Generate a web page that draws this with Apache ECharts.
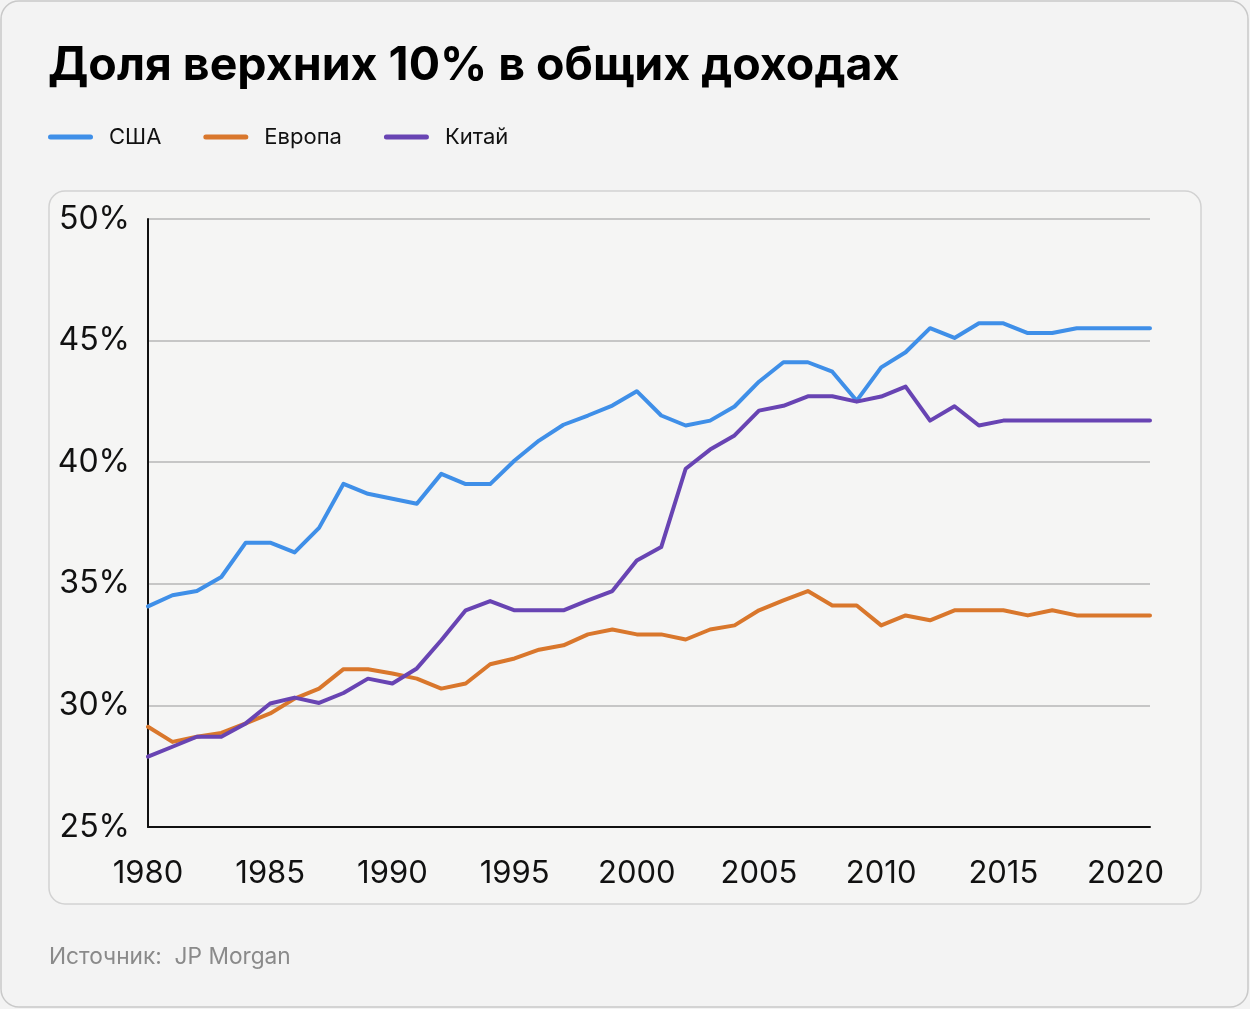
<!DOCTYPE html>
<html>
<head>
<meta charset="utf-8">
<script src="https://cdn.jsdelivr.net/npm/echarts@6/dist/echarts.min.js"></script>
<style>
  html, body { margin: 0; padding: 0; background: #f3f3f3; }
  #chart { width: 1250px; height: 1009px; }
</style>
</head>
<body>
<div id="chart"></div>
<script>
const titleText = 'Доля верхних 10% в общих доходах';
const sourceText = 'Источник:  JP Morgan';
const seriesNames = ['США', 'Европа', 'Китай'];
const years = [];
for (let y = 1980; y <= 2021; y++) years.push(String(y));

const usa = [34.07, 34.53, 34.70, 35.28, 36.69, 36.69, 36.29, 37.30, 39.11, 38.70,
             38.50, 38.29, 39.52, 39.10, 39.10, 40.07, 40.89, 41.54, 41.92, 42.33,
             42.92, 41.92, 41.51, 41.71, 42.29, 43.31, 44.11, 44.11, 43.72, 42.53,
             43.90, 44.52, 45.51, 45.11, 45.71, 45.71, 45.31, 45.31, 45.51, 45.51,
             45.51, 45.51];
const europe = [29.12, 28.50, 28.71, 28.87, 29.26, 29.67, 30.28, 30.69, 31.49, 31.49,
                31.31, 31.10, 30.69, 30.90, 31.69, 31.93, 32.29, 32.47, 32.92, 33.12,
                32.92, 32.92, 32.71, 33.12, 33.29, 33.91, 34.32, 34.70, 34.11, 34.11,
                33.29, 33.70, 33.50, 33.91, 33.91, 33.91, 33.70, 33.91, 33.70, 33.70,
                33.70, 33.70];
const china = [27.89, 28.30, 28.71, 28.71, 29.26, 30.08, 30.32, 30.10, 30.51, 31.10,
               30.90, 31.52, 32.68, 33.91, 34.29, 33.91, 33.91, 33.91, 34.32, 34.70,
               35.96, 36.51, 39.73, 40.52, 41.10, 42.12, 42.32, 42.71, 42.71, 42.49,
               42.70, 43.11, 41.71, 42.30, 41.51, 41.71, 41.71, 41.71, 41.71, 41.71,
               41.71, 41.71];
const colors = ['#3f8fe8', '#d9772c', '#6844b3'];

const chart = echarts.init(document.getElementById('chart'), null, { renderer: 'canvas' });
const legendIcon = 'path://M2.5,0 H42.5 A2.5,2.5 0 0 1 42.5,5 H2.5 A2.5,2.5 0 0 1 2.5,0 Z';

function lineSeries(i, data) {
  return {
    name: seriesNames[i], type: 'line', data: data, showSymbol: false, symbol: 'none',
    lineStyle: { color: colors[i], width: 4, cap: 'round', join: 'round' },
    itemStyle: { color: colors[i] }
  };
}

chart.setOption({
  backgroundColor: '#f3f3f3',
  animation: false,
  textStyle: { fontFamily: 'Inter, "Noto Sans", sans-serif' },
  graphic: [
    { type: 'rect', z: -10, silent: true,
      shape: { x: 1, y: 1, width: 1247, height: 1006, r: 18 },
      style: { fill: '#f3f3f3', stroke: '#c9c9c9', lineWidth: 1.5 } },
    { type: 'rect', z: -9, silent: true,
      shape: { x: 49, y: 191, width: 1152, height: 713, r: 16 },
      style: { fill: '#f5f5f4', stroke: '#d2d2d2', lineWidth: 1.5 } },
    { type: 'text', left: 48, top: 43,
      style: { text: titleText, fill: '#000', font: 'bold 46.5px Inter, "Noto Sans", sans-serif' } },
    { type: 'text', left: 49, top: 946,
      style: { text: sourceText, fill: '#8a8a8a', font: '22.7px Inter, "Noto Sans", sans-serif' } }
  ],
  legend: {
    left: 48, top: 126, padding: 0,
    icon: legendIcon,
    itemWidth: 45, itemHeight: 5,
    itemGap: 42,
    textStyle: { fontSize: 22, color: '#111', padding: [0, 0, 0, 11], fontFamily: 'Inter, "Noto Sans", sans-serif' },
    data: seriesNames
  },
  grid: { left: 148, right: 100, top: 219, bottom: 182, containLabel: false },
  xAxis: {
    type: 'category',
    data: years,
    boundaryGap: false,
    axisLine: { lineStyle: { color: '#111', width: 2 } },
    axisTick: { show: false },
    axisLabel: { interval: 4, fontSize: 31, color: '#111', margin: 31, fontFamily: 'Inter, sans-serif' },
    splitLine: { show: false }
  },
  yAxis: {
    type: 'value',
    min: 25, max: 50, interval: 5,
    axisLine: { show: true, lineStyle: { color: '#111', width: 2 } },
    axisTick: { show: false },
    axisLabel: { formatter: '{value}%', fontSize: 32, color: '#111', margin: 18, fontFamily: 'Inter, sans-serif' },
    splitLine: { lineStyle: { color: '#c6c6c6', width: 2 } }
  },
  series: [
    lineSeries(0, usa),
    lineSeries(1, europe),
    lineSeries(2, china)
  ]
});
</script>
</body>
</html>
